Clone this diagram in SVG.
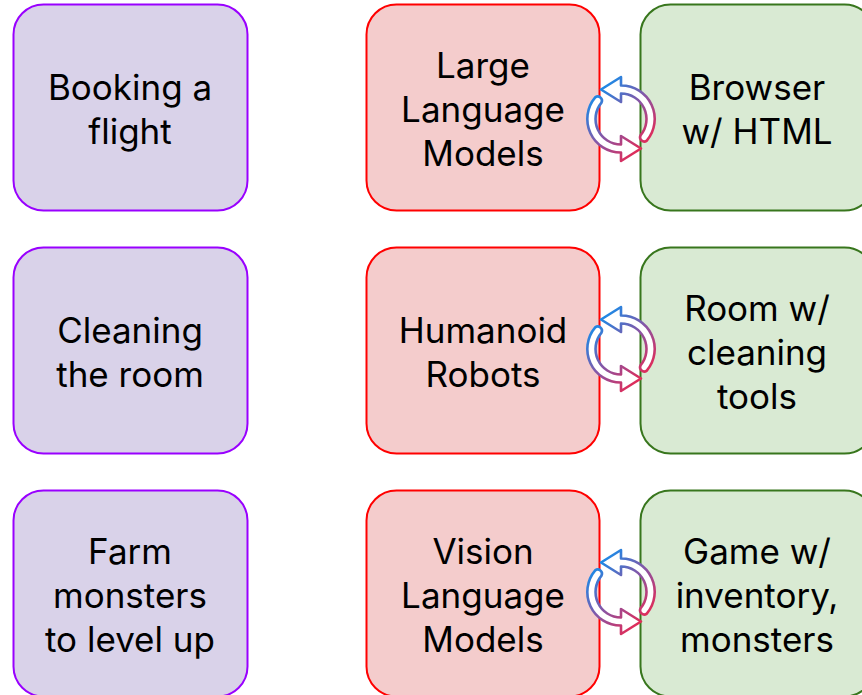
<svg xmlns="http://www.w3.org/2000/svg" width="862" height="695" viewBox="0 0 862 695">
<defs>
<style>
.box{stroke-width:2}
.task{fill:#d9d2e9;stroke:#9900ff}
.agent{fill:#f4cccc;stroke:#ff0000}
.env{fill:#d9ead3;stroke:#38761d}
text{font-family:Inter,"Open Sans","Liberation Sans",sans-serif;font-size:35px;fill:#000;text-anchor:middle}
.cyc{fill:#fff;stroke:url(#grad);stroke-width:2.6;stroke-linejoin:round}
</style>
<linearGradient id="grad" gradientUnits="userSpaceOnUse" x1="-26" y1="-26" x2="26" y2="26">
<stop offset="0" stop-color="#1a8be8"/>
<stop offset="0.5" stop-color="#8656a6"/>
<stop offset="1" stop-color="#e52a55"/>
</linearGradient>
<g id="cycle">
<path class="cyc" d="M25.8,21.6 A33.5 33.5 0 0 0 0,-33.5 L0,-42 L-20,-29.5 L0,-17 L0,-25.5 A25.5 25.5 0 0 1 19.5,16.4 A4.2 4.2 0 0 0 25.8,21.6 Z"/>
<path class="cyc" d="M-25.8,-21.6 A33.5 33.5 0 0 0 0,33.5 L0,42 L20,29.5 L0,17 L0,25.5 A25.5 25.5 0 0 1 -19.5,-16.4 A4.2 4.2 0 0 0 -25.8,-21.6 Z"/>
</g>
</defs>

<g id="task1"><rect class="box task" x="13.5" y="4.5" width="234" height="206" rx="30"/><text x="130" y="100">Booking a</text><text x="130" y="144">flight</text></g>
<g id="task2"><rect class="box task" x="13.5" y="247.5" width="234" height="206" rx="30"/><text x="130" y="343">Cleaning</text><text x="130" y="387">the room</text></g>
<g id="task3"><rect class="box task" x="13.5" y="490.5" width="234" height="206" rx="30"/><text x="130" y="564">Farm</text><text x="130" y="608">monsters</text><text x="130" y="652">to level up</text></g>

<g id="agent1"><rect class="box agent" x="366.5" y="4.5" width="233" height="206" rx="30"/><text x="483" y="78">Large</text><text x="483" y="122">Language</text><text x="483" y="166">Models</text></g>
<g id="agent2"><rect class="box agent" x="366.5" y="247.5" width="233" height="206" rx="30"/><text x="483" y="343">Humanoid</text><text x="483" y="387">Robots</text></g>
<g id="agent3"><rect class="box agent" x="366.5" y="490.5" width="233" height="206" rx="30"/><text x="483" y="564">Vision</text><text x="483" y="608">Language</text><text x="483" y="652">Models</text></g>

<g id="env1"><rect class="box env" x="640.5" y="4.5" width="234" height="206" rx="30"/><text x="757" y="100">Browser</text><text x="757" y="144">w/ HTML</text></g>
<g id="env2"><rect class="box env" x="640.5" y="247.5" width="234" height="206" rx="30"/><text x="757" y="321">Room w/</text><text x="757" y="365">cleaning</text><text x="757" y="409">tools</text></g>
<g id="env3"><rect class="box env" x="640.5" y="490.5" width="234" height="206" rx="30"/><text x="757" y="564">Game w/</text><text x="757" y="608">inventory,</text><text x="757" y="652">monsters</text></g>

<g id="connectors">
<use href="#cycle" x="621" y="119"/>
<use href="#cycle" x="621" y="349"/>
<use href="#cycle" x="621" y="592"/>
</g>
</svg>
